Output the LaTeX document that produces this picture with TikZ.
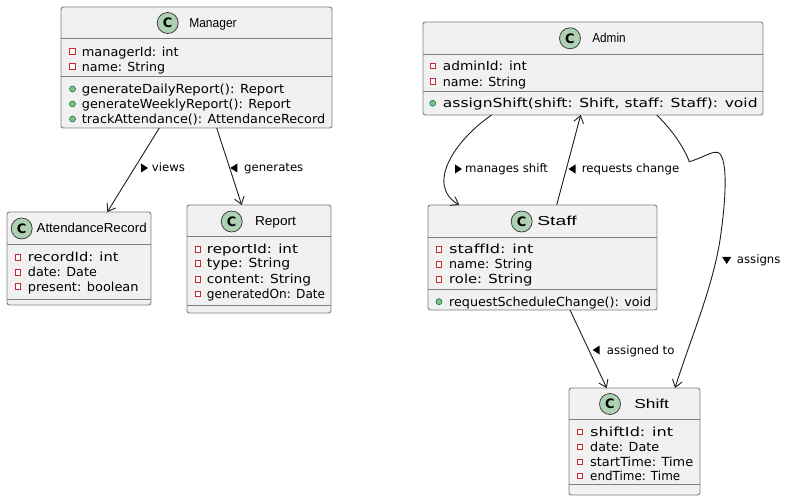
\documentclass[tikz,border=0pt]{standalone}
\usepackage{fontspec}
\setmainfont{DejaVu Sans}
\newfontfamily\namefont{Liberation Sans}
\usepackage{graphicx}
\usetikzlibrary{arrows.meta}

\definecolor{boxfill}{HTML}{F1F1F1}
\definecolor{boxline}{HTML}{7E7E7E}
\definecolor{classC}{HTML}{ADD1B2}
\definecolor{privred}{HTML}{C82930}
\definecolor{pubfill}{HTML}{84BE84}
\definecolor{publine}{HTML}{038048}

% set a text line to a given width (in pt) by horizontal scaling
\newlength\fitlen
\newcommand\fitto[2]{\settowidth\fitlen{#2}\pgfmathsetmacro\fitfac{#1/\fitlen}\scalebox{\fitfac}[1]{#2}}

% one member row: name, icon x, text x, row centre y, text width, text, icon pic
\newcommand\umlmember[7]{%
  \pic at (#2,#4) {#7};
  \node[member] (#1) at (#3,#4+4.5) {\fitto{#5}{#6}};}

\begin{document}
\begin{tikzpicture}[x=1pt,y=-1pt,
  classbox/.style={draw=boxline, fill=boxfill, line width=0.9pt, rounded corners=2.5pt,
    anchor=north west, inner sep=0pt, outer sep=0pt},
  divider/.style={draw=boxline, line width=0.9pt},
  badge/.style={circle, draw=black!80, line width=0.7pt, fill=classC, minimum size=21pt,
    inner sep=0pt, font=\fontsize{13}{13}\selectfont\bfseries},
  cname/.style={anchor=base, inner sep=0pt, font=\namefont\fontsize{13}{15}\selectfont},
  member/.style={anchor=base west, inner sep=0pt, font=\fontsize{12.5}{15}\selectfont},
  rel/.style={draw=black!88, line width=0.9pt,
    -{Straight Barb[length=7pt,width=10pt,line width=0.9pt]}},
  rlabel/.style={anchor=base west, inner sep=0pt, font=\fontsize{11.7}{14}\selectfont},
  privicon/.pic={\draw[privred, line width=0.8pt, fill=white] (-2.8,-2.8) rectangle (2.8,2.8);},
  pubicon/.pic={\draw[publine, line width=0.6pt, fill=pubfill] (0,0) circle (3);},
  dirR/.pic={\fill (4,0) -- (-3,-4.5) -- (-3,4.5) -- cycle;},
  dirL/.pic={\fill (-4,0) -- (3,-4.5) -- (3,4.5) -- cycle;},
  dirD/.pic={\fill (0,4) -- (-4.5,-3) -- (4.5,-3) -- cycle;}
]
\useasboundingbox[fill=white] (0,0) rectangle (789,502);

% ---------------- Manager ----------------
\node[classbox, minimum width=271pt, minimum height=121pt] (mgr) at (61,7) {};
\draw[divider] (mgr.west |- 0,38) -- (mgr.east |- 0,38);
\draw[divider] (mgr.west |- 0,76) -- (mgr.east |- 0,76);
\node[badge] (mgrC) at (167.7,23) {C};
\node[cname] (mgrN) at (213,27.5) {\fitto{47.4}{Manager}};
\umlmember{mgr1}{72.5}{81.7}{51.7}{96.7}{managerId: int}{privicon}
\umlmember{mgr2}{72.5}{81.7}{66.7}{83.3}{name: String}{privicon}
\umlmember{mgr3}{72.5}{81.7}{89}{202.3}{generateDailyReport(): Report}{pubicon}
\umlmember{mgr4}{72.5}{81.7}{104}{209}{generateWeeklyReport(): Report}{pubicon}
\umlmember{mgr5}{72.5}{81.7}{119}{243.3}{trackAttendance(): AttendanceRecord}{pubicon}

% ---------------- AttendanceRecord ----------------
\node[classbox, minimum width=144pt, minimum height=93pt] (att) at (7,212) {};
\draw[divider] (att.west |- 0,244) -- (att.east |- 0,244);
\draw[divider] (att.west |- 0,299) -- (att.east |- 0,299);
\node[badge] (attC) at (21.7,228.5) {C};
\node[cname] (attN) at (91.7,233) {\fitto{110}{AttendanceRecord}};
\umlmember{att1}{17.7}{27.7}{257.3}{90.7}{recordId: int}{privicon}
\umlmember{att2}{17.7}{27.7}{272.3}{69}{date: Date}{privicon}
\umlmember{att3}{17.7}{27.7}{286.7}{110.7}{present: boolean}{privicon}

% ---------------- Report ----------------
\node[classbox, minimum width=144pt, minimum height=108pt] (rep) at (187,205) {};
\draw[divider] (rep.west |- 0,236.7) -- (rep.east |- 0,236.7);
\draw[divider] (rep.west |- 0,305) -- (rep.east |- 0,305);
\node[badge] (repC) at (231.7,221.5) {C};
\node[cname] (repN) at (275.5,226) {\fitto{41}{Report}};
\umlmember{rep1}{197.7}{206.7}{249.3}{91}{reportId: int}{privicon}
\umlmember{rep2}{197.7}{206.7}{263.3}{83.3}{type: String}{privicon}
\umlmember{rep3}{197.7}{206.7}{279.3}{104.3}{content: String}{privicon}
\umlmember{rep4}{197.7}{206.7}{294}{118.3}{generatedOn: Date}{privicon}

% ---------------- Admin ----------------
\node[classbox, minimum width=340pt, minimum height=93pt] (adm) at (423,22) {};
\draw[divider] (adm.west |- 0,54.3) -- (adm.east |- 0,54.3);
\draw[divider] (adm.west |- 0,91) -- (adm.east |- 0,91);
\node[badge] (admC) at (570,38.3) {C};
\node[cname] (admN) at (609,42.8) {\fitto{33.3}{Admin}};
\umlmember{adm1}{432.7}{442.7}{66}{84}{adminId: int}{privicon}
\umlmember{adm2}{432.7}{442.7}{81.7}{83.3}{name: String}{privicon}
\umlmember{adm3}{432.7}{442.7}{103.3}{314.7}{assignShift(shift: Shift, staff: Staff): void}{pubicon}

% ---------------- Staff ----------------
\node[classbox, minimum width=229pt, minimum height=105pt] (stf) at (428,205) {};
\draw[divider] (stf.west |- 0,237.3) -- (stf.east |- 0,237.3);
\draw[divider] (stf.west |- 0,289.3) -- (stf.east |- 0,289.3);
\node[badge] (stfC) at (521.7,221.5) {C};
\node[cname] (stfN) at (557,226) {\fitto{39.3}{Staff}};
\umlmember{stf1}{439}{449}{249.3}{84.3}{staffId: int}{privicon}
\umlmember{stf2}{439}{449}{264.3}{83.3}{name: String}{privicon}
\umlmember{stf3}{439}{449}{279.3}{83.3}{role: String}{privicon}
\umlmember{stf4}{439}{449}{301.7}{202}{requestScheduleChange(): void}{pubicon}

% ---------------- Shift ----------------
\node[classbox, minimum width=131pt, minimum height=107pt] (sft) at (569,388) {};
\draw[divider] (sft.west |- 0,419) -- (sft.east |- 0,419);
\draw[divider] (sft.west |- 0,484) -- (sft.east |- 0,484);
\node[badge] (sftC) at (610,404) {C};
\node[cname] (sftN) at (651.7,408.5) {\fitto{34.7}{Shift}};
\umlmember{sft1}{580}{590}{431.7}{83}{shiftId: int}{privicon}
\umlmember{sft2}{580}{590}{446.7}{69}{date: Date}{privicon}
\umlmember{sft3}{580}{590}{461.7}{103}{startTime: Time}{privicon}
\umlmember{sft4}{580}{590}{475.7}{90}{endTime: Time}{privicon}

% ---------------- relations ----------------
\draw[rel] ([xshift=-37.2pt]mgr.south) -- ([xshift=28.3pt]att.north);
\pic at (144,168) {dirR};
\node[rlabel] (lviews) at (151.7,172) {views};

\draw[rel] ([xshift=20.2pt]mgr.south) -- ([xshift=-17.3pt]rep.north);
\pic at (234.3,168) {dirL};
\node[rlabel] (lgen) at (244,172) {generates};

\draw[rel] ([xshift=-101.3pt]adm.south) .. controls (455,140) and (425,185) .. ([xshift=-83.2pt]stf.north);
\pic at (458,169) {dirR};
\node[rlabel] (lman) at (465,173) {manages shift};

\draw[rel] ([xshift=14.2pt]stf.north) -- ([xshift=-12.3pt]adm.south);
\pic at (572.5,169) {dirL};
\node[rlabel] (lreq) at (581.7,173) {requests change};

\draw[rel] ([xshift=63.7pt]adm.south) .. controls (670,128) and (683,145) .. (689.3,161.7)
  .. controls (705,157) and (713,150) .. (719,153)
  .. controls (728,160) and (726,200) .. (720,240)
  .. controls (712,290) and (690,340) .. ([xshift=40.5pt]sft.north);
\pic at (726.7,260) {dirD};
\node[rlabel] (lasg) at (736.7,264) {assigns};

\draw[rel] ([xshift=27.5pt]stf.south) -- ([xshift=-27.8pt]sft.north);
\pic at (596.7,350) {dirL};
\node[rlabel] (lasgto) at (606.7,354) {assigned to};
\end{tikzpicture}
\end{document}
